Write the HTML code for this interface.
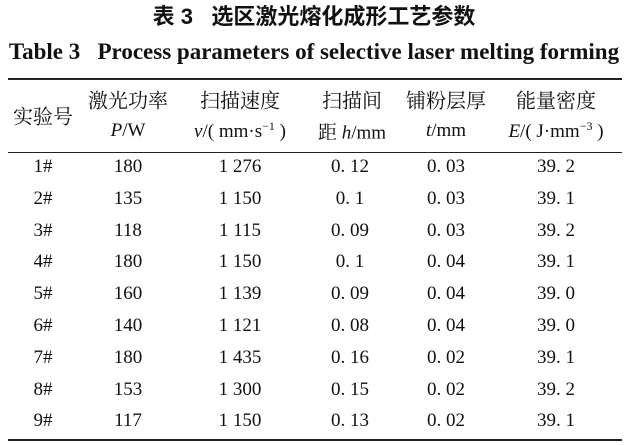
<!DOCTYPE html>
<html><head><meta charset="utf-8"><style>
html,body{margin:0;padding:0;background:#fff;}
body{width:629px;height:445px;position:relative;overflow:hidden;font-family:"Liberation Serif","Noto Serif CJK SC",serif;color:#111;}
.t{position:absolute;white-space:nowrap;transform:translate(-50%,-50%);}
.r{position:absolute;left:8px;width:614px;background:#222;}
.cell{position:absolute;white-space:nowrap;transform:translate(-50%,-50%);font-size:19px;}
.h{font-size:20px;}
</style></head><body>
<div class="t" style="left:314px;top:15px;font-size:22px;font-weight:bold;font-family:'Liberation Sans','Noto Sans CJK SC',sans-serif;">表 3&nbsp;&nbsp;&nbsp;选区激光熔化成形工艺参数</div>
<div class="t" style="left:314px;top:52px;font-size:23px;font-weight:bold;">Table 3&nbsp;&nbsp;&nbsp;Process parameters of selective laser melting forming</div>
<div class="r" style="top:78px;height:2px;"></div>
<div class="r" style="top:152px;height:1px;"></div>
<div class="r" style="top:439px;height:2px;"></div>

<div class="cell h" style="left:43px;top:115px;">实验号</div>
<div class="cell h" style="left:128px;top:99px;">激光功率</div>
<div class="cell" style="left:128px;top:131px;"><i>P</i>/W</div>
<div class="cell h" style="left:240px;top:99px;">扫描速度</div>
<div class="cell" style="left:240px;top:131px;"><i>v</i>/( mm·s<sup style="font-size:12px">−1</sup> )</div>
<div class="cell h" style="left:352px;top:99px;">扫描间</div>
<div class="cell" style="left:352px;top:131px;">距 <i>h</i>/mm</div>
<div class="cell h" style="left:446px;top:99px;">铺粉层厚</div>
<div class="cell" style="left:446px;top:131px;"><i>t</i>/mm</div>
<div class="cell h" style="left:556px;top:99px;">能量密度</div>
<div class="cell" style="left:556px;top:131px;"><i>E</i>/( J·mm<sup style="font-size:12px">−3</sup> )</div>

<div id="rows"></div>
<script>
var d=[["1#","180","1 276","0. 12","0. 03","39. 2"],["2#","135","1 150","0. 1","0. 03","39. 1"],["3#","118","1 115","0. 09","0. 03","39. 2"],["4#","180","1 150","0. 1","0. 04","39. 1"],["5#","160","1 139","0. 09","0. 04","39. 0"],["6#","140","1 121","0. 08","0. 04","39. 0"],["7#","180","1 435","0. 16","0. 02","39. 1"],["8#","153","1 300","0. 15","0. 02","39. 2"],["9#","117","1 150","0. 13","0. 02","39. 1"]];
var xs=[43,128,240,350,446,556],h="";
d.forEach(function(r,i){var y=167+i*31.8;r.forEach(function(v,j){h+='<div class="cell" style="left:'+xs[j]+'px;top:'+y+'px;">'+v+'</div>';});});
document.getElementById("rows").innerHTML=h;
</script>
</body></html>
